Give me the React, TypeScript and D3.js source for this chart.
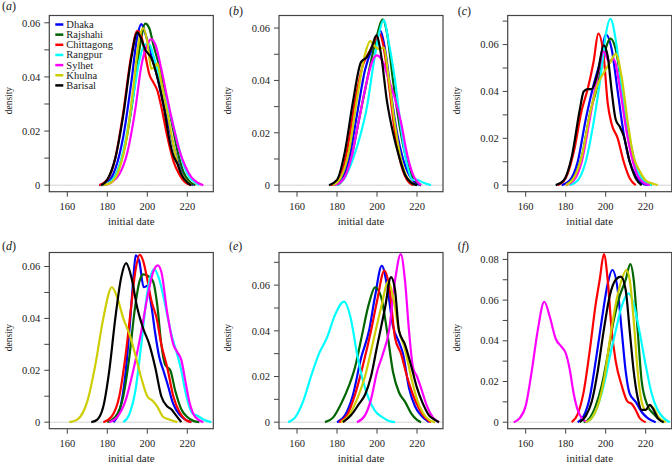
import React from "react";
import * as d3 from "d3";

type Pt = [number, number];

const SERIES = ["Dhaka", "Rajshahi", "Chittagong", "Rangpur", "Sylhet", "Khulna", "Barisal"];
const COLORS = ["#0000FF", "#006400", "#FF0000", "#00FFFF", "#FF00FF", "#CDCD00", "#000000"];
const PANEL_LABELS = ["a", "b", "c", "d", "e", "f"];
const X_TICKS = [160, 180, 200, 220];
const X_DOMAIN: [number, number] = [151, 233];
const Y_TOPS = [0.0627, 0.0648, 0.0724, 0.0654, 0.0743, 0.0834];

// panel (a): order Dhaka, Rajshahi, Chittagong, Rangpur, Sylhet, Khulna, Barisal
const panelA: Pt[][] = [
  [[176,0],[180,0.001],[184,0.006],[188,0.018],[192,0.038],[195,0.055],[197,0.0595],[199,0.056],[202,0.048],[205,0.040],[208,0.030],[211,0.021],[214,0.012],[217,0.005],[220,0.0015],[223,0]],
  [[177,0],[181,0.001],[185,0.005],[189,0.015],[193,0.033],[196,0.050],[199,0.0597],[201,0.058],[203,0.052],[206,0.044],[209,0.034],[212,0.024],[215,0.013],[218,0.005],[221,0.0015],[224,0]],
  [[176,0],[180,0.002],[184,0.010],[188,0.027],[192,0.048],[195,0.057],[197,0.055],[199,0.048],[201,0.041],[203,0.038],[205,0.035],[207,0.029],[210,0.018],[213,0.009],[216,0.004],[219,0.001],[222,0]],
  [[177,0],[181,0.001],[185,0.005],[189,0.016],[193,0.033],[196,0.046],[199,0.052],[201,0.052],[203,0.048],[206,0.040],[209,0.032],[212,0.025],[215,0.016],[218,0.008],[221,0.003],[224,0.001],[226,0]],
  [[178,0],[182,0.001],[186,0.004],[190,0.012],[194,0.028],[197,0.044],[200,0.052],[202,0.054],[204,0.052],[207,0.043],[210,0.032],[213,0.022],[216,0.013],[219,0.007],[222,0.003],[225,0.001],[228,0]],
  [[178,0],[182,0.001],[186,0.006],[190,0.019],[193,0.036],[196,0.054],[198,0.058],[200,0.053],[202,0.043],[204,0.044],[205,0.045],[207,0.038],[210,0.027],[213,0.015],[216,0.006],[219,0.002],[222,0]],
  [[177,0],[180,0.002],[184,0.010],[188,0.026],[192,0.047],[195,0.0565],[197,0.054],[199,0.050],[202,0.047],[205,0.040],[208,0.030],[211,0.017],[213,0.011],[215,0.008],[217,0.004],[220,0.001],[222,0]],
];

const panelB: Pt[][] = [
  [[178,0],[182,0.002],[186,0.010],[190,0.027],[194,0.044],[198,0.053],[201.7,0.0589],[204,0.052],[207,0.035],[210,0.020],[213,0.010],[216,0.004],[219,0.001],[222,0]],
  [[180,0],[183,0.002],[187,0.010],[191,0.025],[195,0.040],[199,0.054],[203,0.0633],[205,0.058],[208,0.040],[211,0.024],[214,0.012],[217,0.004],[220,0.001],[222,0]],
  [[177,0],[181,0.002],[185,0.013],[189,0.032],[193,0.046],[197,0.052],[201.3,0.0578],[203,0.054],[206,0.038],[209,0.020],[212,0.008],[215,0.002],[218,0]],
  [[180,0],[184,0.003],[188,0.010],[192,0.020],[195,0.030],[198,0.045],[201,0.058],[203.3,0.063],[206,0.054],[209,0.040],[212,0.022],[215,0.008],[218,0.002],[220,0.002],[223,0.001],[227,0]],
  [[179,0],[183,0.002],[187,0.010],[191,0.025],[195,0.040],[198,0.048],[200,0.0496],[203,0.047],[206,0.040],[209,0.033],[212,0.024],[215,0.012],[218,0.004],[222,0]],
  [[178,0],[182,0.003],[186,0.013],[190,0.033],[194,0.050],[196.6,0.055],[199,0.053],[201,0.052],[203.3,0.0525],[206,0.040],[209,0.023],[212,0.010],[215,0.003],[219,0]],
  [[176,0],[180,0.002],[184,0.013],[188,0.032],[192,0.047],[195,0.049],[197.5,0.053],[199.7,0.0572],[202,0.050],[205,0.032],[208,0.020],[211,0.011],[214,0.004],[217,0.001],[220,0]],
];

const panelC: Pt[][] = [
  [[178,0],[182,0.002],[186,0.010],[190,0.028],[194,0.043],[197,0.052],[200.2,0.0642],[203,0.058],[206,0.040],[209,0.022],[212,0.010],[215,0.004],[218,0.001],[221,0]],
  [[180,0],[184,0.003],[188,0.012],[192,0.030],[196,0.043],[199,0.055],[202.4,0.0625],[205,0.058],[208,0.042],[211,0.024],[214,0.011],[217,0.004],[220,0.001],[223,0]],
  [[176,0],[180,0.003],[184,0.014],[188,0.032],[191,0.041],[194,0.053],[196.3,0.0647],[199,0.055],[201,0.035],[203,0.026],[206,0.020],[209,0.010],[212,0.003],[215,0]],
  [[182,0],[186,0.002],[190,0.010],[194,0.027],[198,0.050],[200,0.064],[202.4,0.071],[205,0.062],[208,0.042],[211,0.025],[214,0.012],[217,0.004],[220,0.001],[223,0]],
  [[180,0],[184,0.002],[188,0.010],[192,0.028],[196,0.047],[199,0.057],[201.5,0.053],[204,0.0537],[207,0.042],[210,0.025],[213,0.012],[216,0.004],[219,0.001],[222,0]],
  [[180,0],[184,0.003],[188,0.012],[192,0.030],[196,0.043],[199,0.048],[202,0.052],[205,0.056],[208,0.046],[211,0.027],[214,0.012],[217,0.006],[220,0.002],[224,0.0005],[226,0]],
  [[175,0],[179,0.002],[183,0.012],[187,0.032],[189,0.040],[191,0.041],[193,0.041],[196,0.048],[199,0.0597],[201,0.055],[203,0.040],[205,0.028],[207,0.025],[209,0.021],[212,0.010],[215,0.003],[218,0]],
];

const panelD: Pt[][] = [
  [[183,0],[186,0.004],[189,0.018],[191,0.035],[193,0.055],[194.2,0.0643],[196,0.062],[198.2,0.052],[200,0.0525],[202,0.045],[204,0.034],[206,0.025],[208,0.020],[210,0.015],[213,0.007],[216,0.003],[219,0.001],[222,0]],
  [[180,0],[184,0.002],[188,0.010],[191,0.025],[194,0.045],[196,0.054],[198,0.057],[201,0.056],[203,0.054],[205,0.045],[207,0.030],[209,0.022],[211.5,0.020],[214,0.012],[217,0.005],[220,0.002],[223,0.0005],[226,0]],
  [[178,0],[182,0.002],[186,0.010],[189,0.025],[192,0.045],[194,0.058],[196.2,0.0645],[198,0.062],[200,0.055],[202,0.047],[204.7,0.040],[207,0.030],[210,0.021],[213,0.010],[216,0.004],[219,0.001],[222,0]],
  [[188,0],[191,0.003],[194,0.012],[197,0.030],[200,0.050],[203.4,0.059],[206,0.055],[209,0.045],[212,0.034],[215,0.026],[217,0.020],[219,0.012],[221,0.006],[223,0.003],[225,0.0025],[228,0.001],[232,0]],
  [[181,0],[185,0.002],[189,0.008],[193,0.020],[197,0.035],[200,0.048],[203,0.058],[205.2,0.0604],[207,0.058],[210,0.042],[213,0.030],[215,0.027],[217,0.024],[219,0.016],[221,0.008],[224,0.002],[228,0]],
  [[161,0],[165,0.001],[170,0.008],[174,0.022],[178,0.040],[182.3,0.052],[185,0.048],[188,0.040],[191,0.034],[194,0.026],[197,0.017],[200,0.010],[203,0.008],[205,0.006],[208,0.002],[211,0.001],[215,0]],
  [[172,0],[175,0.001],[178,0.006],[181,0.020],[184,0.040],[187,0.056],[189.4,0.0613],[192,0.056],[195,0.044],[198,0.036],[201,0.030],[204,0.021],[207,0.010],[210,0.006],[212,0.005],[214,0.003],[217,0]],
];

const panelE: Pt[][] = [
  [[180,0],[184,0.003],[188,0.012],[192,0.028],[196,0.040],[199,0.055],[202.4,0.0685],[205,0.060],[208,0.042],[211,0.035],[213,0.030],[216,0.015],[219,0.007],[222,0.003],[226,0]],
  [[174,0],[178,0.002],[182,0.008],[186,0.016],[189,0.024],[192,0.036],[196,0.052],[199,0.059],[202,0.055],[205,0.040],[208,0.022],[211,0.013],[214,0.009],[217,0.004],[220,0.001],[222,0]],
  [[181,0],[185,0.003],[189,0.012],[193,0.025],[197,0.040],[200,0.053],[203.7,0.0664],[206,0.060],[209,0.037],[212,0.030],[215,0.020],[218,0.012],[221,0.006],[224,0.002],[227,0]],
  [[155.5,0],[159,0.002],[163,0.009],[167,0.020],[171,0.030],[175,0.037],[179,0.047],[183.5,0.0528],[187,0.045],[190,0.030],[193,0.018],[196,0.010],[199,0.005],[203,0.002],[206,0.0005],[209,0]],
  [[190,0],[194,0.003],[197,0.010],[200,0.022],[203,0.030],[206,0.040],[209,0.062],[211.9,0.0736],[214,0.062],[216,0.040],[218,0.024],[220,0.020],[222,0.015],[225,0.007],[228,0.002],[231,0]],
  [[182,0],[186,0.003],[190,0.010],[194,0.020],[198,0.035],[202,0.050],[205.7,0.0616],[208,0.055],[211,0.040],[214,0.032],[217,0.020],[220,0.010],[223,0.004],[226,0.001],[229,0]],
  [[183,0],[187,0.003],[191,0.008],[194,0.012],[197,0.020],[200,0.033],[204,0.050],[207,0.0635],[209,0.058],[211,0.040],[214,0.034],[217,0.025],[220,0.015],[223,0.008],[226,0.003],[229,0.001],[231,0]],
];

const panelF: Pt[][] = [
  [[186,0],[189,0.003],[192,0.012],[195,0.030],[198,0.050],[201,0.068],[203.3,0.0748],[206,0.065],[208,0.045],[210,0.025],[212,0.014],[215,0.010],[218,0.005],[221,0.002],[225,0]],
  [[189,0],[192,0.002],[195,0.008],[198,0.018],[201,0.033],[204,0.050],[207,0.062],[210,0.070],[212.3,0.0777],[214,0.070],[216,0.045],[218,0.020],[221,0.008],[224,0.004],[226,0.002],[229,0]],
  [[183,0],[186,0.004],[189,0.015],[192,0.035],[195,0.058],[197,0.070],[199.1,0.0826],[201,0.070],[203,0.045],[205,0.030],[208,0.018],[211,0.010],[213,0.009],[215,0.006],[217,0.002],[220,0]],
  [[190,0],[193,0.002],[196,0.008],[199,0.018],[202,0.032],[205,0.045],[208,0.057],[211.4,0.0633],[214,0.058],[217,0.044],[220,0.028],[223,0.014],[226,0.006],[229,0.002],[232,0]],
  [[154,0],[157,0.002],[160,0.008],[163,0.025],[166,0.045],[169.3,0.0592],[172,0.052],[175,0.041],[178,0.037],[180,0.034],[182,0.026],[184,0.014],[186,0.006],[188,0.002],[191,0]],
  [[190,0],[193,0.002],[196,0.008],[199,0.020],[202,0.040],[205,0.058],[208,0.070],[210.3,0.0748],[212,0.070],[214,0.050],[216,0.025],[218,0.010],[220,0.006],[222,0.008],[224,0.007],[226,0.003],[230,0]],
  [[187,0],[190,0.003],[193,0.010],[196,0.025],[199,0.045],[202,0.062],[205,0.070],[207.6,0.0715],[210,0.065],[212,0.045],[214,0.025],[216,0.012],[218,0.006],[220,0.006],[222,0.0085],[224,0.006],[226,0.002],[229,0]],
];

const PANELS = [panelA, panelB, panelC, panelD, panelE, panelF];

// layout
const COL_LEFT = [49.3, 279, 507.7];
const ROW_TOP = [15.5, 252.5];
const BOX_W = 164;
const BOX_H = 176.2;
const FONT = "Liberation Serif";

function Panel({ idx }: { idx: number }) {
  const col = idx % 3;
  const row = Math.floor(idx / 3);
  const left = COL_LEFT[col];
  const top = ROW_TOP[row];
  const yTop = Y_TOPS[idx];
  const x = d3.scaleLinear().domain(X_DOMAIN).range([left, left + BOX_W]);
  const y = d3.scaleLinear().domain([-yTop * 0.04 / 1.04, yTop]).range([top + BOX_H, top]);
  const line = d3
    .line<Pt>()
    .x((d) => x(d[0]))
    .y((d) => y(d[1]))
    .curve(d3.curveMonotoneX);
  const yTicks = d3.range(0, yTop + 1e-9, 0.01).map((v) => Math.round(v * 100) / 100);
  const labelX = col === 0 ? 2 : left - 50;
  const labelY = row === 0 ? (col === 0 ? 10 : 14.5) : 250;
  const yTitleX = col === 0 ? left - 37 : left - 48;
  const clipId = `clip${idx}`;
  return (
    <g>
      <defs>
        <clipPath id={clipId}>
          <rect x={left} y={top} width={BOX_W} height={BOX_H} />
        </clipPath>
      </defs>
      <line x1={left} x2={left + BOX_W} y1={y(0)} y2={y(0)} stroke="#d4d4d4" strokeWidth={1} />
      <g clipPath={`url(#${clipId})`}>
        {PANELS[idx].map((pts, i) => (
          <path key={i} d={line(pts) || ""} fill="none" stroke={COLORS[i]} strokeWidth={2.2} strokeLinejoin="round" />
        ))}
      </g>
      <rect x={left} y={top} width={BOX_W} height={BOX_H} fill="none" stroke="#444" strokeWidth={1.2} />
      {X_TICKS.map((t) => (
        <g key={t}>
          <line x1={x(t)} x2={x(t)} y1={top + BOX_H} y2={top + BOX_H + 5} stroke="#444" strokeWidth={1} />
          <text x={x(t)} y={top + BOX_H + 18} textAnchor="middle" fontSize={10.5} fontFamily={FONT} fill="#222">
            {t}
          </text>
        </g>
      ))}
      {yTicks.map((t, i) => (
        <g key={i}>
          <line x1={left - 5} x2={left} y1={y(t)} y2={y(t)} stroke="#444" strokeWidth={1} />
          {i % 2 === 0 && (
            <text x={left - 9} y={y(t) + 3.7} textAnchor="end" fontSize={10.5} fontFamily={FONT} fill="#222">
              {t === 0 ? "0" : t.toFixed(2)}
            </text>
          )}
        </g>
      ))}
      <text x={left + BOX_W / 2} y={top + BOX_H + 33.5} textAnchor="middle" fontSize={11} fontFamily={FONT} fill="#222">
        initial date
      </text>
      <text
        transform={`translate(${yTitleX},${top + BOX_H / 2 - 3}) rotate(-90)`}
        textAnchor="middle"
        fontSize={9.5}
        fontFamily={FONT}
        fill="#222"
      >
        density
      </text>
      <text x={labelX} y={labelY} fontSize={12} fontFamily={FONT} fill="#222">
        (<tspan fontStyle="italic">{PANEL_LABELS[idx]}</tspan>)
      </text>
      {idx === 0 &&
        SERIES.map((s, i) => {
          const cy = 24.5 + i * 10.15;
          return (
            <g key={s}>
              <line x1={left + 6} x2={left + 14} y1={cy} y2={cy} stroke={COLORS[i]} strokeWidth={2.5} />
              <text x={left + 17} y={cy + 3.4} fontSize={10.5} fontFamily={FONT} fill="#222">
                {s}
              </text>
            </g>
          );
        })}
    </g>
  );
}

export default function App() {
  return (
    <svg
      width={672}
      height={465}
      viewBox="0 0 672 465"
      style={{ position: "absolute", left: 0, top: 0, background: "#fff" }}
    >
      <rect x={0} y={0} width={672} height={465} fill="#fff" />
      {PANELS.map((_, i) => (
        <Panel key={i} idx={i} />
      ))}
    </svg>
  );
}
